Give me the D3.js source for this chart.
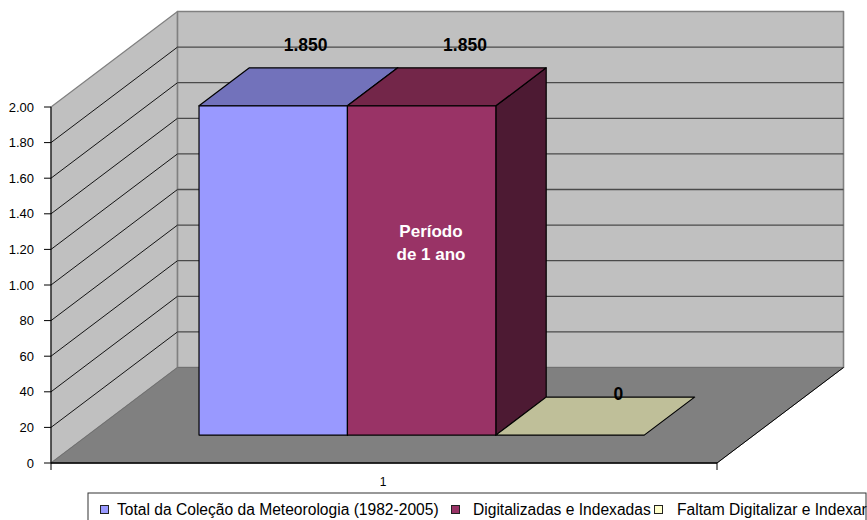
<!DOCTYPE html>
<html><head><meta charset="utf-8">
<script src="https://cdn.jsdelivr.net/npm/d3@7/dist/d3.min.js"></script>
<style>html,body{margin:0;background:#fff}svg{display:block}text{font-family:"Liberation Sans",Arial,sans-serif}</style>
</head><body><svg id="c" width="867" height="520"></svg>
<script>
const categories = ["1"];
const seriesNames = ["Total da Coleção da Meteorologia (1982-2005)", "Digitalizadas e Indexadas", "Faltam Digitalizar e Indexar"];
const seriesValues = [1850, 1850, 0];
const valueLabels = ["1.850", "1.850", "0"];
const tickValues = [0, 200, 400, 600, 800, 1000, 1200, 1400, 1600, 1800, 2000];
const tickLabels = ["0", "20", "40", "60", "80", "1.00", "1.20", "1.40", "1.60", "1.80", "2.00"];
const frontColors = ["#9999ff", "#993366", "#ffffcc"];
const topColors = ["#7272bb", "#732649", "#bfbf99"];
const sideColors = ["#4d4d80", "#4d1a33", "#80805f"];
const noteLines = ["Período", "de 1 ano"];

const svg = d3.select("#c");
const x = d3.scaleLinear().domain([0, 1]).range([51, 717]);
const y = d3.scaleLinear().domain([0, 2000]).range([463, 107]);
const zx = d3.scaleLinear().domain([0, 1]).range([0, 126.5]);
const zy = d3.scaleLinear().domain([0, 1]).range([0, -95.5]);
const P = (u, v, z) => [x(u) + zx(z), y(v) + zy(z)];
const poly = (pts, fill, stroke, w) => svg.append("polygon")
  .attr("points", pts.map(p => p.join(",")).join(" "))
  .attr("fill", fill).attr("stroke", stroke).attr("stroke-width", w).attr("stroke-linejoin", "round");
const line = (a, b, stroke, w) => svg.append("line")
  .attr("x1", a[0]).attr("y1", a[1]).attr("x2", b[0]).attr("y2", b[1])
  .attr("stroke", stroke).attr("stroke-width", w);

// walls and floor
poly([P(0,0,0), P(0,2000,0), P(0,2000,1), P(0,0,1)], "#c0c0c0", "#808080", 1.2);
poly([P(0,0,1), P(0,2000,1), P(1,2000,1), P(1,0,1)], "#c0c0c0", "#808080", 1.6);
poly([P(0,0,0), P(1,0,0), P(1,0,1), P(0,0,1)], "#808080", "#707070", 1);

// gridlines
tickValues.slice(1, -1).forEach(t => {
  line(P(0,t,0), P(0,t,1), "#000", 0.9);
  line(P(0,t,1), P(1,t,1), "#4a4a4a", 1.3);
});

// axes
line(P(0,0,0), P(0,2000,0), "#000", 1);
line(P(0,0,0), P(1,0,0), "#000", 1.3);
line(P(1,0,0), P(1,0,1), "#000", 1);
line([x(0), y(0)], [x(0), y(0)+7], "#000", 1);
line([x(1), y(0)], [x(1), y(0)+7], "#000", 1);
tickValues.forEach((t, i) => {
  line([x(0)-7, y(t)], [x(0), y(t)], "#000", 1);
  svg.append("text").attr("x", x(0)-17).attr("y", y(t)+4.5).attr("text-anchor", "end")
    .attr("font-size", 13).attr("fill", "#000").text(tickLabels[i]);
});
svg.append("text").attr("x", x(0.5)-1).attr("y", 486).attr("text-anchor", "middle")
  .attr("font-size", 12).attr("fill", "#000").text(categories[0]);

// bars
const z0 = 0.292, z1 = 0.69;
const band = d3.scaleBand().domain(d3.range(seriesValues.length)).range([0.1668, 0.8353]);
[0, 1, 2].forEach(i => {
  const v = seriesValues[i], a = band(i), b = a + band.bandwidth();
  if (v > 0) {
    poly([P(b,0,z0), P(b,v,z0), P(b,v,z1), P(b,0,z1)], sideColors[i], "#000", 1.2);
    poly([P(a,v,z0), P(b,v,z0), P(b,v,z1), P(a,v,z1)], topColors[i], "#000", 1.2);
    poly([P(a,0,z0), P(b,0,z0), P(b,v,z0), P(a,v,z0)], frontColors[i], "#000", 1.2);
  } else {
    poly([P(a,0,z0), P(b,0,z0), P(b,0,z1), P(a,0,z1)], topColors[i], "#000", 1.2);
  }
});

// data labels
seriesValues.forEach((v, i) => {
  const c = band(i) + band.bandwidth() / 2;
  const p = P(c, v, z1);
  const nudge = i === 0 ? -18 : i === 1 ? -7 : -2;
  svg.append("text").attr("x", p[0] + nudge).attr("y", p[1] - 17 + (v > 0 ? 0 : 20)).attr("text-anchor", "middle")
    .attr("font-size", 17.5).attr("font-weight", "bold").attr("fill", "#000").text(valueLabels[i]);
});

// annotation
noteLines.forEach((t, i) => svg.append("text").attr("x", 431).attr("y", 237 + i * 23)
  .attr("text-anchor", "middle").attr("font-size", 17).attr("font-weight", "bold")
  .attr("fill", "#fff").text(t));

// legend
svg.append("rect").attr("x", 88).attr("y", 493).attr("width", 778).attr("height", 40)
  .attr("fill", "#fff").attr("stroke", "#333").attr("stroke-width", 1);
const legendX = [100.5, 451.5, 654.5], legendTextX = [117, 473, 677];
seriesNames.forEach((n, i) => {
  svg.append("rect").attr("x", legendX[i]).attr("y", 505.5).attr("width", 8).attr("height", 8)
    .attr("fill", frontColors[i]).attr("stroke", "#222").attr("stroke-width", 1);
  svg.append("text").attr("x", legendTextX[i]).attr("y", 515).attr("font-size", 15.6)
    .attr("fill", "#000").text(n);
});
</script></body></html>
